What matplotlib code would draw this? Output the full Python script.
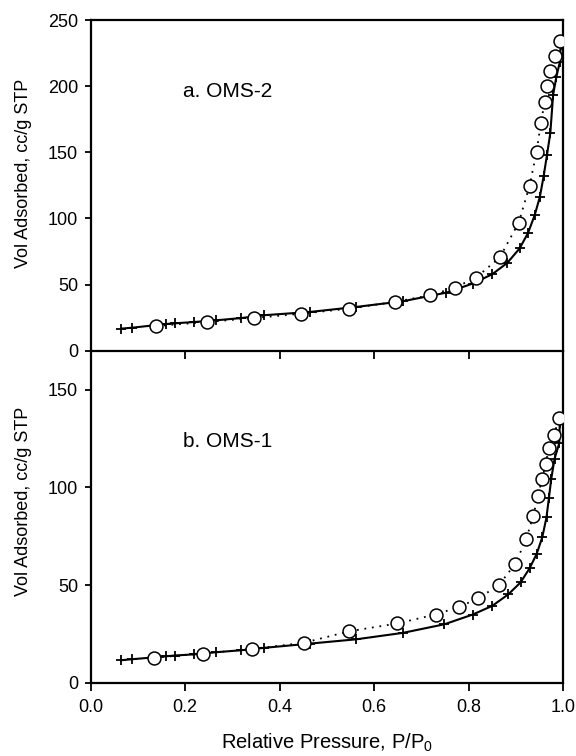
import matplotlib
matplotlib.use("Agg")
import matplotlib.pyplot as plt

plt.rcParams['font.family'] = ['Liberation Sans', 'DejaVu Sans']
plt.rcParams['mathtext.fontset'] = 'custom'
plt.rcParams['mathtext.rm'] = 'Liberation Sans'
plt.rcParams['mathtext.it'] = 'Liberation Sans:italic'

# ---- Data: OMS-2 (panel a) ----
oms2_ads_x = [0.065, 0.088, 0.159, 0.178, 0.219, 0.266, 0.319, 0.366, 0.464, 0.562,
              0.661, 0.753, 0.809, 0.850, 0.882, 0.908, 0.926, 0.940, 0.951, 0.959,
              0.966, 0.973, 0.979, 0.986, 0.993, 0.995]
oms2_ads_y = [16.7, 17.4, 20.2, 20.7, 21.7, 23.0, 24.7, 26.8, 29.3, 33.1,
              37.4, 43.9, 50.8, 57.8, 66.4, 77.3, 89.1, 102.5, 116.4, 132.1,
              148.0, 164.4, 193.4, 207.3, 217.9, 231.0]
oms2_des_x = [0.139, 0.246, 0.345, 0.446, 0.547, 0.644, 0.718, 0.771, 0.816, 0.866,
              0.906, 0.929, 0.944, 0.953, 0.961, 0.966, 0.973, 0.984, 0.994]
oms2_des_y = [18.7, 21.7, 24.7, 28.0, 31.8, 36.9, 41.9, 47.7, 55.3, 70.5,
              96.7, 124.5, 150.5, 172.0, 187.9, 200.3, 211.6, 222.5, 233.8]

# ---- Data: OMS-1 (panel b) ----
oms1_ads_x = [0.065, 0.088, 0.159, 0.178, 0.219, 0.266, 0.319, 0.366, 0.464, 0.562,
              0.661, 0.749, 0.809, 0.850, 0.884, 0.910, 0.929, 0.944, 0.956, 0.965,
              0.970, 0.975, 0.982, 0.992, 0.993]
oms1_ads_y = [11.5, 12.0, 13.5, 13.9, 14.5, 15.6, 16.6, 17.8, 20.0, 22.2,
              25.5, 29.9, 34.9, 39.3, 45.2, 51.3, 58.5, 65.8, 74.4, 84.7,
              94.4, 104.3, 114.6, 122.6, 133.0]
oms1_des_x = [0.135, 0.238, 0.342, 0.451, 0.547, 0.649, 0.730, 0.780, 0.820, 0.864,
              0.899, 0.922, 0.937, 0.947, 0.956, 0.963, 0.970, 0.981, 0.991]
oms1_des_y = [12.8, 14.9, 17.3, 20.4, 26.3, 30.3, 34.9, 38.8, 43.1, 49.9,
              60.9, 73.5, 85.5, 95.8, 104.5, 111.9, 120.1, 126.6, 135.5]

x_ticks = [0.0, 0.2, 0.4, 0.6, 0.8, 1.0]
x_ticklabels = ['0.0', '0.2', '0.4', '0.6', '0.8', '1.0']
top_yticks = [0, 50, 100, 150, 200, 250]
bot_yticks = [0, 50, 100, 150]
labels = ['a. OMS-2', 'b. OMS-1']

fig = plt.figure(figsize=(5.76, 7.56), dpi=100)
left, width = 0.1575, 0.820
ax2 = fig.add_axes([left, 0.0970, width, 0.4392])
ax1 = fig.add_axes([left, 0.5361, width, 0.4374])
ax1.set_zorder(3)
ax2.set_zorder(1)

def draw(ax, ax_x, ax_y, de_x, de_y):
    ax.plot(ax_x, ax_y, color='black', lw=1.5, marker='+', ms=7, mew=1.3, zorder=3)
    ax.plot(de_x, de_y, color='black', lw=1.3, ls=(0, (1, 3.2)), marker='o', ms=9.3,
            mfc='white', mec='black', mew=1.1, zorder=4)

draw(ax1, oms2_ads_x, oms2_ads_y, oms2_des_x, oms2_des_y)
draw(ax2, oms1_ads_x, oms1_ads_y, oms1_des_x, oms1_des_y)

for ax in (ax1, ax2):
    ax.set_xlim(0, 1.0)
    ax.set_xticks(x_ticks)
    for s in ax.spines.values():
        s.set_linewidth(1.6)
    ax.tick_params(axis='x', direction='out', length=6, width=1.3, pad=6, labelsize=13)
    ax.tick_params(axis='y', direction='out', length=4, width=1.3, pad=5, labelsize=13)

ax1.set_ylim(0, 250)
ax1.set_yticks(top_yticks)
ax1.tick_params(axis='x', labelbottom=False)
ax2.set_ylim(0, 170)
ax2.set_yticks(bot_yticks)
ax2.set_xticklabels(x_ticklabels)
ax2.spines['top'].set_visible(False)

ax1.set_ylabel('Vol Adsorbed, cc/g STP', fontsize=13)
ax2.set_ylabel('Vol Adsorbed, cc/g STP', fontsize=13)
ax1.yaxis.set_label_coords(-0.125, 0.537)
ax2.yaxis.set_label_coords(-0.125, 0.547)
ax2.set_xlabel('Relative Pressure, P/P$_\\mathregular{0}$', fontsize=14.5, labelpad=11)

ax1.text(0.1955, 191.5, labels[0], fontsize=15, ha='left', va='baseline')
ax2.text(0.1955, 120.5, labels[1], fontsize=15, ha='left', va='baseline')

fig.savefig('out.png', dpi=100)
